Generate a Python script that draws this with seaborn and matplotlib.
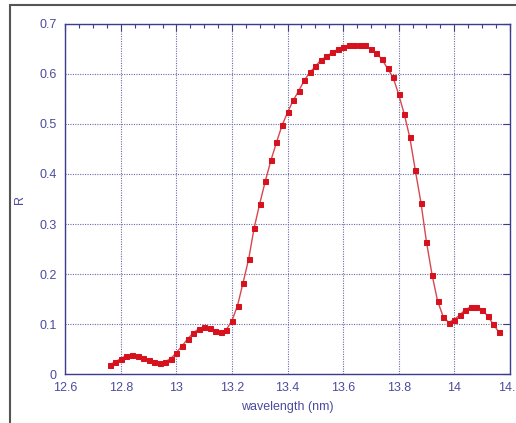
import matplotlib.pyplot as plt
import seaborn as sns
import pandas as pd
from matplotlib.patches import Rectangle
from matplotlib.ticker import MultipleLocator

# reflectance curve
wavelength = [12.76, 12.78, 12.80, 12.82, 12.84, 12.86, 12.88, 12.90, 12.92, 12.94,
              12.96, 12.98, 13.00, 13.02, 13.04, 13.06, 13.08, 13.10, 13.12, 13.14,
              13.16, 13.18, 13.20, 13.22, 13.24, 13.26, 13.28, 13.30, 13.32, 13.34,
              13.36, 13.38, 13.40, 13.42, 13.44, 13.46, 13.48, 13.50, 13.52, 13.54,
              13.56, 13.58, 13.60, 13.62, 13.64, 13.66, 13.68, 13.70, 13.72, 13.74,
              13.76, 13.78, 13.80, 13.82, 13.84, 13.86, 13.88, 13.90, 13.92, 13.94,
              13.96, 13.98, 14.00, 14.02, 14.04, 14.06, 14.08, 14.10, 14.12, 14.14,
              14.16]
reflectance = [0.019, 0.024, 0.031, 0.037, 0.039, 0.037, 0.033, 0.029, 0.025, 0.022,
               0.025, 0.031, 0.043, 0.056, 0.070, 0.082, 0.090, 0.094, 0.092, 0.087,
               0.084, 0.089, 0.107, 0.137, 0.183, 0.230, 0.293, 0.341, 0.386, 0.427,
               0.463, 0.497, 0.523, 0.547, 0.566, 0.587, 0.603, 0.615, 0.628, 0.635,
               0.643, 0.649, 0.654, 0.657, 0.658, 0.658, 0.657, 0.649, 0.642, 0.629,
               0.611, 0.593, 0.559, 0.520, 0.473, 0.407, 0.343, 0.264, 0.199, 0.146,
               0.115, 0.103, 0.109, 0.118, 0.129, 0.134, 0.135, 0.129, 0.116, 0.100,
               0.084]

df = pd.DataFrame({'wavelength': wavelength, 'R': reflectance})

navy = '#3c3c8c'
text_col = '#4b4b9e'

sns.set_style('white')
plt.rcParams['font.family'] = ['Liberation Sans', 'DejaVu Sans']

fig = plt.figure(figsize=(5.16, 4.23), dpi=100)
ax = fig.add_axes([0.1266, 0.1158, 0.8614, 0.8275])

sns.lineplot(data=df, x='wavelength', y='R', ax=ax, color='#d8474f', linewidth=1.0,
             marker='s', markersize=3.6, markerfacecolor='#d6121e',
             markeredgecolor='#d6121e')

ax.set_xlim(12.6, 14.2)
ax.set_ylim(0, 0.7)
ax.xaxis.set_major_locator(MultipleLocator(0.2))
ax.xaxis.set_minor_locator(MultipleLocator(0.05))
ax.yaxis.set_major_locator(MultipleLocator(0.1))
ax.set_xticks([12.6, 12.8, 13.0, 13.2, 13.4, 13.6, 13.8, 14.0, 14.2])
ax.set_xticklabels(['12.6', '12.8', '13', '13.2', '13.4', '13.6', '13.8', '14', '14.2'])
ax.set_yticks([0, 0.1, 0.2, 0.3, 0.4, 0.5, 0.6, 0.7])
ax.set_yticklabels(['0', '0.1', '0.2', '0.3', '0.4', '0.5', '0.6', '0.7'])

ax.grid(True, which='major', color='#6b6bab', linestyle=(0, (1, 1.2)), linewidth=0.8)
ax.tick_params(which='both', direction='in', top=True, right=True, colors=navy,
               labelcolor=text_col, labelsize=9)
ax.tick_params(which='major', length=5, width=0.8, pad=6)
ax.tick_params(which='minor', length=3, width=0.8)
for s in ax.spines.values():
    s.set_color(navy)
    s.set_linewidth(1.0)

ax.set_xlabel('wavelength (nm)', color=text_col, fontsize=9, labelpad=5)
ax.set_ylabel('R', color=text_col, fontsize=9, labelpad=10)

# outer frame (cropped on right/bottom)
fig.patches.append(Rectangle((10 / 516, -0.1), 1.2, 1.0 - 5 / 423 + 0.1,
                             transform=fig.transFigure, fill=False,
                             edgecolor='#555555', linewidth=1.5))

fig.savefig('out.png', dpi=100)
